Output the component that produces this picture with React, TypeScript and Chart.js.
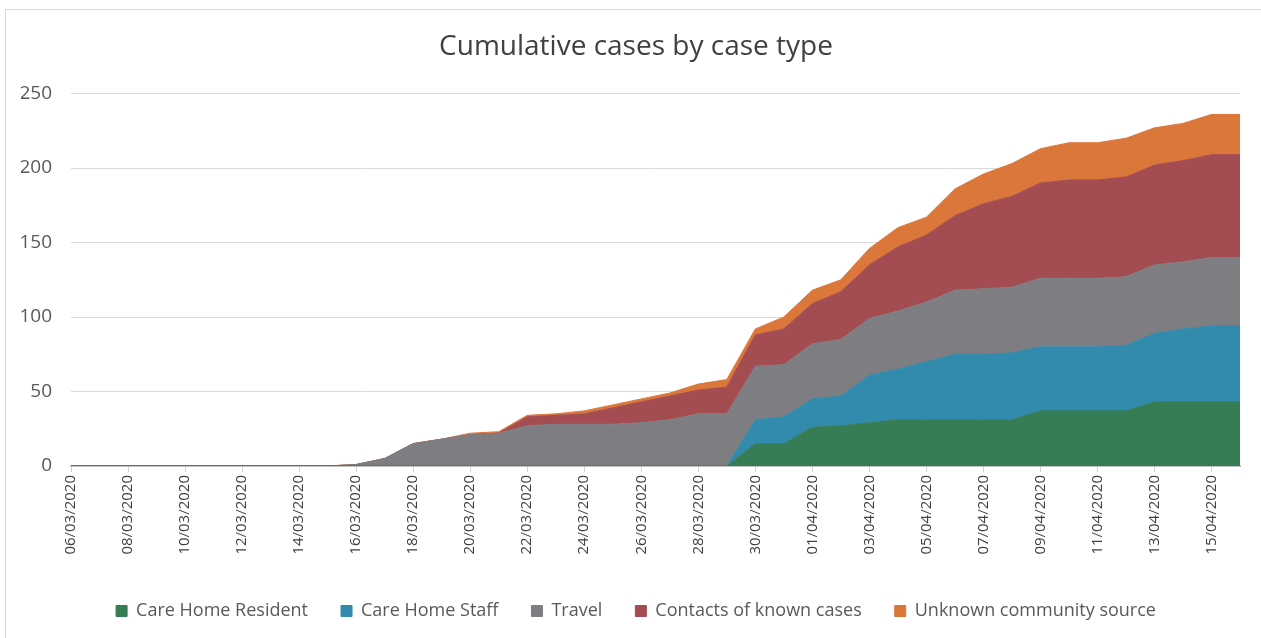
import React, { useEffect, useRef } from 'react';
import { Chart, registerables } from 'chart.js';

Chart.register(...registerables);

const dates = [
  '06/03/2020', '07/03/2020', '08/03/2020', '09/03/2020', '10/03/2020', '11/03/2020', '12/03/2020',
  '13/03/2020', '14/03/2020', '15/03/2020', '16/03/2020', '17/03/2020', '18/03/2020', '19/03/2020',
  '20/03/2020', '21/03/2020', '22/03/2020', '23/03/2020', '24/03/2020', '25/03/2020', '26/03/2020',
  '27/03/2020', '28/03/2020', '29/03/2020', '30/03/2020', '31/03/2020', '01/04/2020', '02/04/2020',
  '03/04/2020', '04/04/2020', '05/04/2020', '06/04/2020', '07/04/2020', '08/04/2020', '09/04/2020',
  '10/04/2020', '11/04/2020', '12/04/2020', '13/04/2020', '14/04/2020', '15/04/2020', '16/04/2020',
];

const careHomeResident = [
  0, 0, 0, 0, 0, 0, 0, 0, 0, 0, 0, 0, 0, 0, 0, 0, 0, 0, 0, 0, 0, 0, 0, 0,
  15, 15, 26, 27, 29, 31, 31, 31, 31, 31, 37, 37, 37, 37, 43, 43, 43, 43,
];
const careHomeStaff = [
  0, 0, 0, 0, 0, 0, 0, 0, 0, 0, 0, 0, 0, 0, 0, 0, 0, 0, 0, 0, 0, 0, 0, 0,
  16, 18, 19, 20, 32, 34, 39, 44, 44, 45, 43, 43, 43, 44, 46, 49, 51, 51,
];
const travel = [
  0, 0, 0, 0, 0, 0, 0, 0, 0, 0,
  1, 5, 15, 18, 21, 22, 27, 28, 28, 28, 29, 31, 35, 35,
  36, 35, 37, 38, 38, 39, 40, 43, 44, 44, 46, 46, 46, 46, 46, 45, 46, 46,
];
const contactsOfKnownCases = [
  0, 0, 0, 0, 0, 0, 0, 0, 0, 0, 0, 0, 0, 0, 0, 0,
  6, 6, 7, 11, 14, 16, 16, 18,
  21, 24, 27, 32, 36, 43, 45, 50, 57, 61, 64, 66, 66, 67, 67, 68, 69, 69,
];
const unknownCommunitySource = [
  0, 0, 0, 0, 0, 0, 0, 0, 0, 0, 0, 0, 0, 0,
  1, 1, 1, 1, 2, 2, 2, 2, 4, 5,
  4, 8, 9, 8, 11, 13, 12, 18, 20, 22, 23, 25, 25, 26, 25, 25, 27, 27,
];

const yTicks = [0, 50, 100, 150, 200, 250];

const FONT = "'Open Sans', 'Noto Sans', sans-serif";

export default function App() {
  const canvasRef = useRef<HTMLCanvasElement | null>(null);

  useEffect(() => {
    const canvas = canvasRef.current;
    if (!canvas) return;
    const mk = (label: string, data: number[], color: string, fill: string | boolean) => ({
      label,
      data,
      backgroundColor: color,
      borderColor: color,
      borderWidth: 1,
      pointRadius: 0,
      pointHoverRadius: 0,
      tension: 0,
      fill,
    });
    const chart = new Chart(canvas, {
      type: 'line',
      data: {
        labels: dates,
        datasets: [
          mk('Care Home Resident', careHomeResident, '#367d56', 'origin'),
          mk('Care Home Staff', careHomeStaff, '#328aad', '-1'),
          mk('Travel', travel, '#7e7e82', '-1'),
          mk('Contacts of known cases', contactsOfKnownCases, '#a34d53', '-1'),
          mk('Unknown community source', unknownCommunitySource, '#dc773b', '-1'),
        ],
      },
      options: {
        animation: false,
        responsive: false,
        devicePixelRatio: 1,
        layout: { padding: { left: 21, right: 10, top: 0, bottom: 8 } },
        plugins: {
          title: {
            display: true,
            text: 'Cumulative cases by case type',
            color: '#404040',
            font: { family: FONT, size: 28, weight: 'normal' },
            padding: { top: 30, bottom: 30 },
          },
          legend: {
            position: 'bottom',
            labels: {
              color: '#595959',
              font: { family: FONT, size: 18 },
              boxWidth: 11,
              boxHeight: 11,
              padding: 33,
            },
          },
          tooltip: { enabled: false },
        },
        scales: {
          x: {
            type: 'category',
            offset: false,
            grid: {
              drawOnChartArea: false,
              drawTicks: true,
              tickLength: 6,
              color: (ctx: any) => (ctx.index % 2 === 0 ? '#d0d0d0' : 'rgba(0,0,0,0)'),
            },
            border: { display: true, color: '#bfbfbf', width: 2 },
            ticks: {
              autoSkip: false,
              minRotation: 90,
              maxRotation: 90,
              color: '#404040',
              font: { family: FONT, size: 15 },
              padding: 3,
              callback: (_v: any, i: number) => (i % 2 === 0 ? dates[i] : ''),
            },
            afterFit: (s: any) => {
              s.height = 103;
            },
          },
          y: {
            stacked: true,
            min: 0,
            max: 250,
            afterBuildTicks: (s: any) => {
              s.ticks = yTicks.map((v) => ({ value: v }));
            },
            grid: { color: '#d9d9d9', drawTicks: false },
            border: { display: false },
            ticks: {
              color: '#595959',
              font: { family: FONT, size: 19 },
              padding: 19,
            },
            afterFit: (s: any) => {
              s.width = 50;
            },
          },
          ySpacer: {
            position: 'right',
            display: true,
            grid: { display: false, drawTicks: false },
            border: { display: false },
            ticks: { display: false },
            afterFit: (s: any) => {
              s.width = 11;
            },
          },
        },
      },
    } as any);
    return () => chart.destroy();
  }, []);

  return (
    <div style={{ position: 'fixed', left: 0, top: 0, width: 1261, height: 638, background: '#fff', overflow: 'hidden' }}>
      <div style={{ position: 'absolute', left: 5, top: 9, width: 1270, height: 640, border: '1px solid #d9d9d9' }} />
      <canvas ref={canvasRef} width={1261} height={638} style={{ position: 'absolute', left: 0, top: 0, width: 1261, height: 638 }} />
    </div>
  );
}
